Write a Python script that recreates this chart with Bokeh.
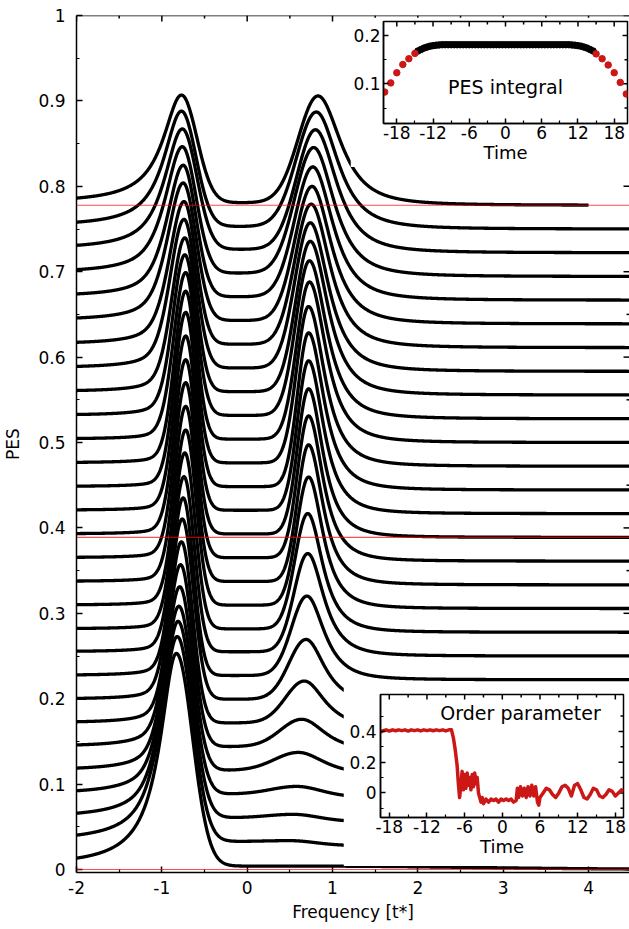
import numpy as np
from bokeh.plotting import figure
from bokeh.models import FixedTicker, Span, Label, Range1d, CustomJSTickFormatter
from bokeh.embed import file_html
from bokeh.resources import INLINE

FONT = "DejaVu Sans"

# ---------------- main waterfall: per-curve values ----------
# curve k (bottom = 0 ... top = 28): zero line (offset), lower / upper peak data
BASE = [0.0, 0.0278, 0.0556, 0.0833, 0.1111, 0.1389, 0.1667, 0.1944, 0.2222, 0.25,
        0.2778, 0.3056, 0.3333, 0.3611, 0.3889, 0.4167, 0.4444, 0.4722, 0.5, 0.5278,
        0.5556, 0.5833, 0.6111, 0.6389, 0.6667, 0.6944, 0.7222, 0.75, 0.7778]
LO_H = [0.253, 0.245, 0.235, 0.225, 0.22, 0.218, 0.217, 0.216, 0.213, 0.21,
        0.21, 0.209, 0.209, 0.209, 0.208, 0.208, 0.208, 0.205, 0.199, 0.192,
        0.184, 0.178, 0.171, 0.165, 0.158, 0.152, 0.145, 0.138, 0.129]
LO_C = [-0.83, -0.82, -0.81, -0.80, -0.79, -0.78, -0.77, -0.76, -0.75, -0.74,
        -0.73, -0.72, -0.72, -0.72, -0.72, -0.72, -0.72, -0.72, -0.72, -0.73,
        -0.73, -0.74, -0.74, -0.75, -0.75, -0.76, -0.76, -0.77, -0.77]
LO_TAIL = [1.0, 0.85, 0.7, 0.55, 0.42, 0.32, 0.24, 0.18, 0.14, 0.12,
           0.1, 0.1, 0.1, 0.1, 0.1, 0.1, 0.1, 0.12, 0.15, 0.2,
           0.27, 0.35, 0.45, 0.55, 0.65, 0.75, 0.85, 0.93, 1.0]
LO_GAM = [0.23, 0.23, 0.22, 0.22, 0.21, 0.21, 0.2, 0.2, 0.2, 0.2,
          0.2, 0.2, 0.2, 0.2, 0.2, 0.2, 0.2, 0.2, 0.2, 0.21,
          0.21, 0.22, 0.22, 0.23, 0.23, 0.24, 0.25, 0.25, 0.26]
LO_SL = [0.2, 0.19, 0.18, 0.17, 0.16, 0.15, 0.14, 0.14, 0.13, 0.13,
         0.13, 0.13, 0.13, 0.13, 0.13, 0.13, 0.13, 0.13, 0.14, 0.14,
         0.15, 0.16, 0.17, 0.18, 0.19, 0.2, 0.2, 0.2, 0.2]
LO_SR = [0.19, 0.18, 0.17, 0.16, 0.15, 0.14, 0.13, 0.13, 0.12, 0.12,
         0.12, 0.12, 0.12, 0.12, 0.12, 0.12, 0.12, 0.12, 0.12, 0.13,
         0.13, 0.14, 0.14, 0.15, 0.15, 0.16, 0.17, 0.17, 0.18]
UP_H = [0.0, 0.001, 0.004, 0.009, 0.021, 0.032, 0.049, 0.07, 0.093, 0.115,
        0.135, 0.15, 0.16, 0.166, 0.17, 0.175, 0.18, 0.183, 0.184, 0.181,
        0.176, 0.17, 0.164, 0.157, 0.152, 0.147, 0.14, 0.134, 0.125]
UP_C = [0.6, 0.5, 0.54, 0.58, 0.6, 0.64, 0.67, 0.69, 0.7, 0.71,
        0.71, 0.72, 0.72, 0.72, 0.72, 0.72, 0.72, 0.72, 0.73, 0.73,
        0.74, 0.74, 0.75, 0.76, 0.77, 0.78, 0.8, 0.81, 0.83]
UP_SL = [0.3, 0.3, 0.3, 0.3, 0.28, 0.25, 0.22, 0.2, 0.18, 0.16,
         0.15, 0.14, 0.13, 0.13, 0.13, 0.13, 0.13, 0.14, 0.15, 0.16,
         0.17, 0.18, 0.19, 0.2, 0.21, 0.22, 0.22, 0.23, 0.23]
UP_WR = [0.5, 0.5, 0.5, 0.5, 0.45, 0.4, 0.35, 0.32, 0.3, 0.28,
         0.26, 0.25, 0.25, 0.25, 0.25, 0.26, 0.27, 0.28, 0.29, 0.3,
         0.31, 0.32, 0.33, 0.34, 0.35, 0.36, 0.37, 0.38, 0.4]
FLOOR = [0.004, 0.005, 0.005, 0.005, 0.005, 0.005, 0.005, 0.005, 0.005, 0.005,
         0.004, 0.004, 0.004, 0.004, 0.004, 0.004, 0.004, 0.004, 0.004, 0.004,
         0.004, 0.004, 0.004, 0.004, 0.004, 0.004, 0.004, 0.003, 0.003]
FADE = [2.0] + [0.3] * 28
X_END = [4.5] * 28 + [4.0]
RED_CURVES = [0, 14, 28]

X_TICKS = [-2, -1, 0, 1, 2, 3, 4]
X_MINOR = [-1.5, -0.5, 0.5, 1.5, 2.5, 3.5]
Y_TICKS = [0, 0.1, 0.2, 0.3, 0.4, 0.5, 0.6, 0.7, 0.8, 0.9, 1.0]
Y_MINOR = [0.05, 0.15, 0.25, 0.35, 0.45, 0.55, 0.65, 0.75, 0.85, 0.95]

# ---------------- inset 1: PES integral ----------------
T_RED = [-20, -19, -18, -17, -16, -15, 15, 16, 17, 18, 19, 20]
PES_RED = [0.083, 0.102, 0.123, 0.14, 0.152, 0.163, 0.162, 0.152, 0.139, 0.123, 0.103, 0.079]
T_BLK = [-14.5, -14, -13.5, -13, -12.5, -12, -11.5, -11, -10.5, -10, -9.5, -9, -8.5, -8,
         -7.5, -7, -6.5, -6, -5.5, -5, -4.5, -4, -3.5, -3, -2.5, -2, -1.5, -1, -0.5, 0,
         0.5, 1, 1.5, 2, 2.5, 3, 3.5, 4, 4.5, 5, 5.5, 6, 6.5, 7, 7.5, 8, 8.5, 9, 9.5,
         10, 10.5, 11, 11.5, 12, 12.5, 13, 13.5, 14, 14.5]
PES_BLK = [0.168, 0.171, 0.174, 0.176, 0.178, 0.179, 0.18, 0.1805, 0.181, 0.181, 0.181,
           0.181, 0.181, 0.181, 0.181, 0.181, 0.181, 0.181, 0.181, 0.181, 0.181, 0.181,
           0.181, 0.181, 0.181, 0.181, 0.181, 0.181, 0.181, 0.181, 0.181, 0.181, 0.181,
           0.181, 0.181, 0.181, 0.181, 0.181, 0.181, 0.181, 0.181, 0.181, 0.181, 0.181,
           0.181, 0.181, 0.181, 0.181, 0.181, 0.181, 0.181, 0.1805, 0.18, 0.179, 0.178,
           0.176, 0.174, 0.171, 0.168]
IN_X_TICKS = [-18, -12, -6, 0, 6, 12, 18]
IN_X_MINOR = [-15, -9, -3, 3, 9, 15]
IN1_Y_TICKS = [0.1, 0.2]
IN1_Y_MINOR = [0.05, 0.15]

# ---------------- inset 2: order parameter ----------------
T_OP = [-19.4, -19, -18.5, -18, -17.5, -17, -16.5, -16, -15.5, -15, -14.5, -14, -13.5,
        -13, -12.5, -12, -11.5, -11, -10.5, -10, -9.5, -9, -8.5, -8.1, -7.8, -7.5, -7.2,
        -7.0, -6.8, -6.6, -6.4, -6.2, -6.0, -5.8, -5.6, -5.4, -5.2, -5.0, -4.8, -4.6,
        -4.4, -4.2, -4.0, -3.8, -3.6, -3.4, -3.2, -3.0, -2.6, -2.2, -1.8, -1.4, -1.0,
        -0.6, -0.2, 0.2, 0.6, 1.0, 1.4, 1.8, 2.2, 2.4, 2.6, 2.9, 3.2, 3.5, 3.8, 4.1,
        4.4, 4.7, 5.0, 5.3, 5.6, 5.8, 6.0, 6.5, 7.0, 7.5, 8.0, 8.5, 9.0, 9.5, 10.0,
        10.5, 11.0, 11.5, 12.0, 12.5, 13.0, 13.5, 14.0, 14.5, 15.0, 15.5, 16.0, 16.5,
        17.0, 17.5, 18.0, 18.5, 19.0, 19.3]
OP = [0.395, 0.405, 0.41, 0.402, 0.41, 0.404, 0.41, 0.405, 0.41, 0.402, 0.41, 0.405,
      0.41, 0.403, 0.41, 0.405, 0.41, 0.404, 0.41, 0.405, 0.41, 0.403, 0.41, 0.41, 0.36,
      0.28, 0.18, 0.06, -0.03, 0.05, 0.14, 0.02, 0.12, 0.03, 0.13, 0.05, 0.10, 0.02,
      0.12, 0.04, 0.13, 0.06, 0.10, 0.0, -0.03, -0.06, -0.03, -0.07, -0.04, -0.06,
      -0.04, -0.05, -0.04, -0.06, -0.04, -0.05, -0.04, -0.05, -0.04, -0.06, -0.05,
      0.03, -0.03, 0.04, -0.02, 0.03, -0.03, 0.04, -0.02, 0.05, -0.02, 0.04, -0.06,
      -0.08, -0.03, 0.0, 0.03, 0.02, -0.01, -0.03, 0.0, 0.04, 0.05, 0.03, -0.02,
      0.05, 0.06, 0.02, -0.03, -0.04, -0.01, 0.03, 0.02, -0.02, -0.03, -0.01, 0.02,
      0.01, -0.02, 0.0, 0.02, 0.01, 0.02]
IN2_Y_TICKS = [0, 0.2, 0.4]
IN2_Y_MINOR = [-0.1, 0.1, 0.3, 0.5]

RED = "#cc1717"


def fmt():
    return CustomJSTickFormatter(code="return String(Math.round(tick*100)/100);")


def style_axis(ax, size="17px", tin=6, min_in=3, standoff=8):
    ax.major_tick_in = tin
    ax.major_tick_out = 0
    ax.minor_tick_in = min_in
    ax.minor_tick_out = 0
    ax.axis_line_width = 1.5
    ax.major_tick_line_width = 1.5
    ax.minor_tick_line_width = 1.2
    ax.major_label_text_font = FONT
    ax.major_label_text_color = "black"
    ax.major_label_text_font_size = size
    ax.major_label_standoff = standoff
    ax.axis_label_text_font = FONT
    ax.axis_label_text_font_style = "normal"
    ax.axis_label_text_color = "black"
    ax.formatter = fmt()


def mirror_ticks(fig, xr, yr, frame_w, frame_h, xt, xm, yt, ym, big, small):
    """Inward ticks on the top and right frame edges (same tick values as the axes)."""
    dx = (xr[1] - xr[0]) / frame_w
    dy = (yr[1] - yr[0]) / frame_h
    for ticks, L in ((xt, big), (xm, small)):
        fig.segment(x0=ticks, y0=[yr[1]] * len(ticks), x1=ticks,
                    y1=[yr[1] - L * dy] * len(ticks), line_color="black", line_width=1.5)
    for ticks, L in ((yt, big), (ym, small)):
        fig.segment(x0=[xr[1]] * len(ticks), y0=ticks, x1=[xr[1] - L * dx] * len(ticks),
                    y1=ticks, line_color="black", line_width=1.5)


# ---------------- main figure ----------------
MX = (-2.0, 4.48)
MY = (-0.0035, 1.0)
p = figure(width=629, height=929, x_range=Range1d(*MX), y_range=Range1d(*MY),
           output_backend="svg", toolbar_location=None,
           min_border_left=75, min_border_right=0, min_border_top=15, min_border_bottom=57)
p.outline_line_color = None
p.grid.visible = False
p.background_fill_color = "white"
p.border_fill_color = "white"
p.xaxis.ticker = FixedTicker(ticks=X_TICKS, minor_ticks=X_MINOR)
p.yaxis.ticker = FixedTicker(ticks=Y_TICKS, minor_ticks=Y_MINOR)
style_axis(p.xaxis[0], standoff=8)
style_axis(p.yaxis[0], standoff=11)
p.xaxis.axis_label = "Frequency [t*]"
p.yaxis.axis_label = "PES"
p.xaxis.axis_label_text_font_size = "17px"
p.yaxis.axis_label_text_font_size = "17px"
p.xaxis.axis_label_standoff = 5
p.yaxis.axis_label_standoff = 12

xs_all, ys_all = [], []
for k in range(len(BASE)):
    x = np.linspace(-2.0, X_END[k], int((X_END[k] + 2.0) * 200) + 1)
    d = x - LO_C[k]
    h = LO_H[k] - FLOOR[k]
    left = (1 - LO_TAIL[k]) * np.exp(-d ** 2 / (2 * LO_SL[k] ** 2)) + LO_TAIL[k] / (1 + (d / LO_GAM[k]) ** 2)
    right = np.exp(-d ** 2 / (2 * LO_SR[k] ** 2))
    lower = h * np.where(d < 0, left, right)
    du = x - UP_C[k]
    up = UP_H[k] * np.where(du < 0, np.exp(-du ** 2 / (2 * UP_SL[k] ** 2)),
                            (1 + (du / UP_WR[k]) ** 2) ** -1.5)
    fl = FLOOR[k] * np.where(du < 0, 1.0, np.exp(-du ** 2 / (2 * FADE[k] ** 2)))
    xs_all.append(x)
    ys_all.append(BASE[k] + lower + up + fl)

p.multi_line(xs_all, ys_all, line_color="black", line_width=3.3, line_join="round")
for k in RED_CURVES:
    p.add_layout(Span(location=BASE[k], dimension="width", line_color="red",
                      line_alpha=0.7, line_width=1.2))
p.add_layout(Span(location=MY[1], dimension="width", line_color="black", line_width=1.5))
mirror_ticks(p, MX, MY, 629 - 75, 929 - 15 - 57, X_TICKS, X_MINOR, Y_TICKS, Y_MINOR, 6, 3)

# ---------------- inset 1 ----------------
I1X = (-20.2, 20.2)
I1Y = (0.018, 0.229)
i1 = figure(width=279, height=150, x_range=Range1d(*I1X), y_range=Range1d(*I1Y),
            output_backend="svg", toolbar_location=None,
            min_border_left=30, min_border_right=2, min_border_top=4, min_border_bottom=44,
            styles={"position": "absolute", "left": "350px", "top": "17px"})
i1.grid.visible = False
i1.outline_line_color = "black"
i1.outline_line_width = 1.5
i1.xaxis.ticker = FixedTicker(ticks=IN_X_TICKS, minor_ticks=IN_X_MINOR)
i1.yaxis.ticker = FixedTicker(ticks=IN1_Y_TICKS, minor_ticks=IN1_Y_MINOR)
style_axis(i1.xaxis[0], tin=5, min_in=3, standoff=2)
style_axis(i1.yaxis[0], tin=5, min_in=3, standoff=3)
i1.xaxis.axis_label = "Time"
i1.xaxis.axis_label_text_font_size = "18px"
i1.xaxis.axis_label_standoff = 0
mirror_ticks(i1, I1X, I1Y, 279 - 30 - 2, 150 - 4 - 44, IN_X_TICKS, IN_X_MINOR,
             IN1_Y_TICKS, IN1_Y_MINOR, 5, 3)
i1.scatter(T_BLK, PES_BLK, size=6.5, color="black")
i1.scatter(T_RED, PES_RED, size=6.5, color=RED)
i1.add_layout(Label(x=0, y=0.093, text="PES integral", text_align="center",
                    text_baseline="middle", text_font=FONT, text_font_size="19px",
                    text_color="black"))

# ---------------- inset 2 ----------------
I2X = (-19.4, 19.3)
I2Y = (-0.16, 0.64)
i2 = figure(width=286, height=180, x_range=Range1d(*I2X), y_range=Range1d(*I2Y),
            output_backend="svg", toolbar_location=None,
            min_border_left=37, min_border_right=6, min_border_top=8, min_border_bottom=49,
            styles={"position": "absolute", "left": "343px", "top": "686px"})
i2.grid.visible = False
i2.outline_line_color = "black"
i2.outline_line_width = 1.5
i2.xaxis.ticker = FixedTicker(ticks=IN_X_TICKS, minor_ticks=IN_X_MINOR)
i2.yaxis.ticker = FixedTicker(ticks=IN2_Y_TICKS, minor_ticks=IN2_Y_MINOR)
style_axis(i2.xaxis[0], tin=5, min_in=3, standoff=2)
style_axis(i2.yaxis[0], tin=5, min_in=3, standoff=4)
i2.xaxis.axis_label = "Time"
i2.xaxis.axis_label_text_font_size = "18px"
i2.xaxis.axis_label_standoff = 0
mirror_ticks(i2, I2X, I2Y, 286 - 37 - 6, 180 - 8 - 49, IN_X_TICKS, IN_X_MINOR,
             IN2_Y_TICKS, IN2_Y_MINOR, 5, 3)
i2.line(T_OP, OP, line_color=RED, line_width=3.5, line_join="round")
i2.add_layout(Label(x=2.9, y=0.52, text="Order parameter", text_align="center",
                    text_baseline="middle", text_font=FONT, text_font_size="19px",
                    text_color="black"))

roots = [p, i1, i2]
open("out.html", "w").write(file_html(roots, INLINE))
